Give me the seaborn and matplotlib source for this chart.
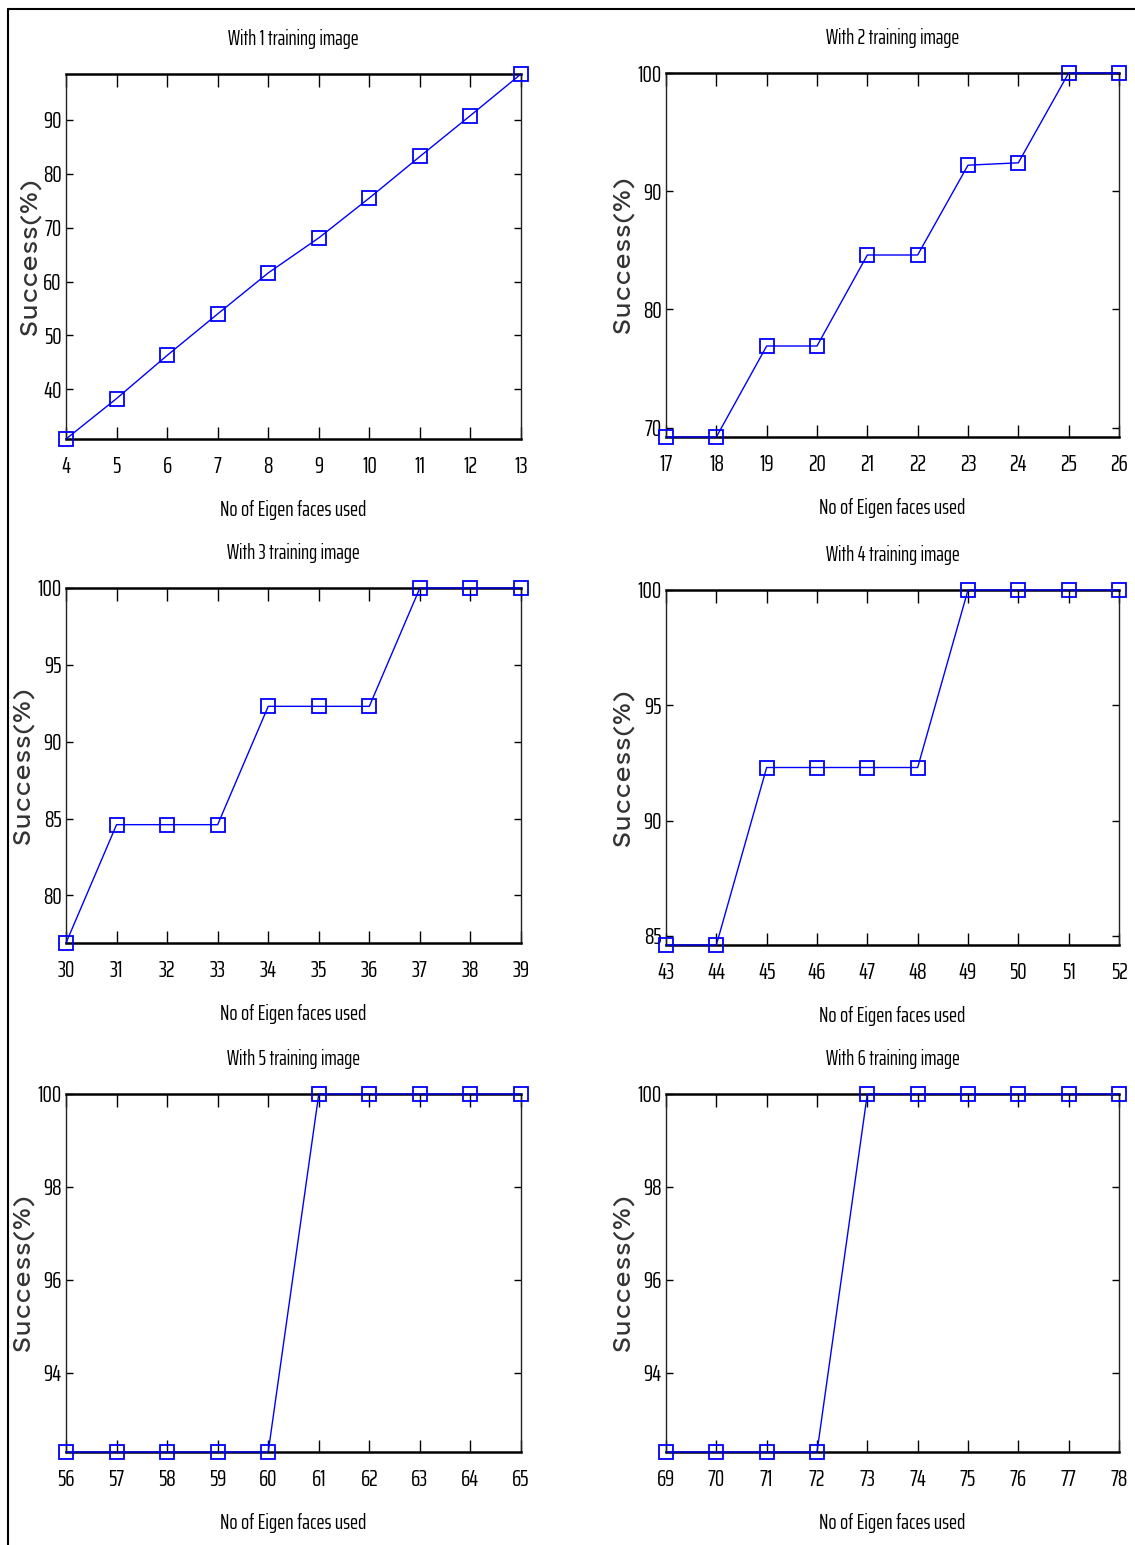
import matplotlib
matplotlib.use("Agg")
import matplotlib.pyplot as plt
from matplotlib.lines import Line2D
import seaborn as sns
import pandas as pd

# ---- data ----
titles = ["With 1 training image", "With 2 training image", "With 3 training image",
          "With 4 training image", "With 5 training image", "With 6 training image"]

x1 = [4, 5, 6, 7, 8, 9, 10, 11, 12, 13]
y1 = [30.8, 38.3, 46.3, 54.0, 61.6, 68.1, 75.5, 83.2, 90.8, 98.5]
t1 = [40, 50, 60, 70, 80, 90]

x2 = [17, 18, 19, 20, 21, 22, 23, 24, 25, 26]
y2 = [69.2, 69.2, 76.9, 76.9, 84.6, 84.6, 92.2, 92.4, 100, 100]
t2 = [70, 80, 90, 100]

x3 = [30, 31, 32, 33, 34, 35, 36, 37, 38, 39]
y3 = [76.9, 84.6, 84.6, 84.6, 92.3, 92.3, 92.3, 100, 100, 100]
t3 = [80, 85, 90, 95, 100]

x4 = [43, 44, 45, 46, 47, 48, 49, 50, 51, 52]
y4 = [84.6, 84.6, 92.3, 92.3, 92.3, 92.3, 100, 100, 100, 100]
t4 = [85, 90, 95, 100]

x5 = [56, 57, 58, 59, 60, 61, 62, 63, 64, 65]
y5 = [92.3, 92.3, 92.3, 92.3, 92.3, 100, 100, 100, 100, 100]
t5 = [94, 96, 98, 100]

x6 = [69, 70, 71, 72, 73, 74, 75, 76, 77, 78]
y6 = [92.3, 92.3, 92.3, 92.3, 100, 100, 100, 100, 100, 100]
t6 = [94, 96, 98, 100]

xlabel = "No of Eigen faces used"
ylabel = "Success(%)"

# ---- styling ----
sns.set_theme(style="white")
NARROW = ["Saira ExtraCondensed", "Fira Sans Extra Condensed", "DejaVu Sans"]
WIDE = ["Lexend Exa", "DejaVu Sans"]
plt.rcParams["font.family"] = NARROW

W, H = 1135, 1545
fig = plt.figure(figsize=(W / 100, H / 100), dpi=100)
fig.patch.set_facecolor("white")

# axes boxes in pixels: (left, top, right, bottom)
boxes = [(66, 74, 521, 439), (666, 73, 1119, 437),
         (66, 588, 521, 943), (666, 590, 1119, 945),
         (66, 1094, 521, 1452), (666, 1094, 1119, 1452)]
ylab_x = [-0.055, -0.071, -0.071, -0.071, -0.071, -0.071]

panels = [(x1, y1, t1), (x2, y2, t2), (x3, y3, t3),
          (x4, y4, t4), (x5, y5, t5), (x6, y6, t6)]

blue = "#0000ff"
for (l, t, r, b), (xs, ys, yt), title, lx in zip(boxes, panels, titles, ylab_x):
    ax = fig.add_axes([l / W, 1 - b / H, (r - l) / W, (b - t) / H])
    df = pd.DataFrame({"x": xs, "y": ys})
    sns.lineplot(data=df, x="x", y="y", ax=ax, color=blue, linewidth=1.0,
                 marker="s", markersize=10, markerfacecolor="none",
                 markeredgecolor=blue, markeredgewidth=1.3,
                 estimator=None, clip_on=False, zorder=5)
    ax.set_xlim(xs[0], xs[-1])
    ax.set_ylim(min(ys), max(ys))
    ax.set_xticks(xs)
    ax.set_yticks(yt)
    ax.tick_params(axis="x", direction="in", top=True, bottom=True, length=9,
                   width=1, pad=12, labelsize=17, colors="black")
    ax.tick_params(axis="y", direction="in", left=True, right=True, length=5,
                   width=1, pad=3, labelsize=17, colors="black")
    for s in ("top", "bottom"):
        ax.spines[s].set_linewidth(1.8)
        ax.spines[s].set_color("black")
    for s in ("left", "right"):
        ax.spines[s].set_linewidth(1.0)
        ax.spines[s].set_color("#222222")
    ax.set_title(title, fontsize=15, pad=21, color="black")
    ax.set_xlabel(xlabel, fontsize=15.5, labelpad=17, color="black")
    ax.set_ylabel(ylabel, fontsize=17, color="#333333", family=WIDE,
                  fontweight="light")
    ax.yaxis.set_label_coords(lx, 0.5)
    ax.grid(False)

# outer frame lines (left and top)
fig.add_artist(Line2D([8 / W, 8 / W], [0, 1 - 9 / H], color="black", lw=1.5,
                      transform=fig.transFigure))
fig.add_artist(Line2D([8 / W, 1], [1 - 9 / H, 1 - 9 / H], color="black", lw=1.5,
                      transform=fig.transFigure))

fig.savefig("out.png", dpi=100, facecolor="white")
